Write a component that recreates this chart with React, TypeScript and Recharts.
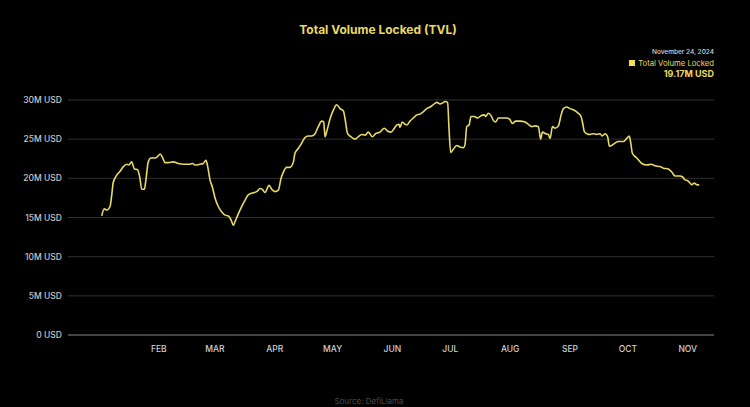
import React from 'react';
import { LineChart, Line, XAxis, YAxis, CartesianGrid } from 'recharts';

// day-of-year (2024) for each sample
const DAYS = [
  15.4, 16.7, 18.0, 19.7, 20.6, 21.4, 23.2, 24.9, 26.6, 28.3, 29.5, 30.9, 32.3, 34.0, 35.2, 36.1, 37.5, 38.2, 39.5, 40.9,
  43.0, 44.4, 45.7, 47.0, 48.2, 49.9, 52.5, 55.1, 57.7, 61.1, 62.5, 63.7, 66.3, 68.0, 69.4, 70.3, 71.5, 72.7, 74.1, 75.8,
  77.6, 79.3, 81.0, 82.4, 83.6, 84.5, 86.2, 87.9, 89.6, 91.3, 93.1, 94.5, 95.7, 97.4, 98.6, 100.0, 102.1, 103.5, 105.2, 106.9,
  108.3, 109.5, 111.2, 112.9, 114.7, 115.5, 117.2, 119.0, 120.7, 122.4, 124.2, 125.9, 127.6, 129.4, 130.4, 131.1, 132.0, 133.7, 135.4, 137.1,
  138.9, 140.6, 141.4, 142.8, 144.6, 146.6, 148.3, 150.1, 151.8, 153.5, 155.6, 157.3, 159.6, 161.8, 163.6, 165.3, 167.0, 168.2, 169.4, 169.9,
  171.1, 172.5, 173.4, 175.1, 176.8, 178.6, 180.3, 182.0, 183.8, 185.5, 187.2, 189.0, 190.7, 191.9, 193.3, 194.6, 195.3, 196.2, 197.5, 199.3,
  201.0, 202.7, 203.6, 204.5, 205.7, 206.7, 208.4, 210.2, 211.9, 213.6, 214.3, 215.7, 217.1, 218.3, 219.5, 220.9, 222.6, 225.2, 226.9, 228.1,
  229.9, 232.1, 234.7, 236.4, 238.2, 239.9, 241.6, 242.8, 243.7, 245.4, 246.8, 247.7, 248.9, 250.3, 252.0, 253.4, 254.6, 256.3, 258.0, 260.2,
  262.3, 263.7, 264.6, 265.4, 266.7, 268.4, 270.1, 271.8, 273.6, 274.7, 276.2, 277.5, 278.4, 279.6, 281.3, 283.0, 285.6, 287.4, 288.7, 289.6,
  290.3, 292.6, 295.2, 297.8, 300.0, 302.0, 304.6, 306.4, 308.9, 310.7, 312.4, 315.0, 316.2, 317.6, 319.0, 319.8, 321.1, 322.4, 323.6, 324.9,
];

// TVL in millions of USD
const TVL = [
  15.2, 16.1, 15.95, 16.4, 17.9, 19.5, 20.4, 20.9, 21.5, 21.8, 21.7, 22.1, 21.2, 21.1, 20.0, 18.6, 18.6, 19.6, 22.1, 22.6,
  22.6, 22.8, 23.1, 22.6, 22.0, 22.0, 22.1, 21.9, 21.8, 21.8, 21.9, 21.7, 21.8, 21.9, 22.3, 21.5, 19.8, 18.9, 17.5, 16.4,
  15.7, 15.3, 15.2, 14.7, 14.0, 14.5, 15.5, 16.4, 17.2, 17.9, 18.1, 18.2, 18.3, 18.7, 18.6, 18.2, 19.1, 18.6, 18.3, 18.5,
  20.0, 20.8, 21.4, 21.4, 22.1, 23.2, 23.8, 24.5, 25.2, 25.4, 25.4, 25.7, 26.6, 27.3, 27.2, 25.3, 26.0, 27.6, 28.7, 29.4,
  28.9, 28.6, 27.7, 25.7, 25.3, 25.0, 25.3, 25.6, 25.5, 25.9, 25.3, 25.7, 25.9, 26.4, 26.0, 25.9, 26.4, 26.8, 26.9, 26.5,
  27.2, 26.9, 26.8, 27.3, 27.7, 28.1, 28.2, 28.5, 28.9, 29.1, 29.4, 29.7, 29.5, 29.6, 29.8, 29.7, 26.4, 23.3, 23.7, 24.2,
  24.0, 23.9, 24.3, 26.6, 26.8, 27.9, 27.9, 27.7, 28.0, 28.1, 27.9, 28.3, 28.0, 27.4, 27.2, 27.7, 27.7, 27.7, 27.5, 27.0,
  27.3, 27.3, 27.2, 26.9, 26.6, 26.7, 26.6, 25.0, 25.9, 25.7, 25.6, 25.1, 26.6, 26.4, 26.7, 28.1, 28.9, 29.1, 28.9, 28.7,
  28.3, 27.9, 27.0, 26.0, 25.7, 25.6, 25.7, 25.6, 25.7, 25.4, 25.7, 25.3, 24.1, 24.2, 24.5, 24.7, 24.7, 25.1, 25.4, 24.3,
  23.2, 22.6, 21.9, 21.7, 21.8, 21.6, 21.5, 21.3, 21.2, 20.8, 20.3, 20.3, 20.2, 19.8, 19.7, 19.5, 19.2, 19.4, 19.2, 19.17,
];

const MONTH_TICKS = [45, 74, 105, 135, 166, 196, 227, 258, 288, 319];
const MONTH_LABELS = ['FEB', 'MAR', 'APR', 'MAY', 'JUN', 'JUL', 'AUG', 'SEP', 'OCT', 'NOV'];
const Y_TICKS = [0, 5, 10, 15, 20, 25, 30];

const data = DAYS.map((d, i) => ({ day: d, tvl: TVL[i] }));

const FONT = 'Inter, "Liberation Sans", Arial, sans-serif';
const YELLOW = '#e8da62';

export default function App() {
  return (
    <div style={{ position: 'relative', width: 750, height: 407, background: '#000', fontFamily: FONT, overflow: 'hidden' }}>
      <style>{'body{margin:0;background:#000}'}</style>

      <div style={{ position: 'absolute', top: 22, left: 3, width: 750, textAlign: 'center', color: YELLOW, fontSize: 12, fontWeight: 700 }}>
        Total Volume Locked (TVL)
      </div>

      {/* tooltip-like legend, top right */}
      <div style={{ position: 'absolute', top: 49, right: 36, textAlign: 'right', lineHeight: 1 }}>
        <div style={{ color: '#d8d8d8', fontSize: 6.5, fontWeight: 500 }}>November 24, 2024</div>
        <div style={{ color: YELLOW, fontSize: 7.7, marginTop: 4, display: 'flex', alignItems: 'center', justifyContent: 'flex-end' }}>
          <span style={{ display: 'inline-block', width: 6, height: 6, background: '#f2df4a', marginRight: 3 }} />
          Total Volume Locked
        </div>
        <div style={{ color: YELLOW, fontSize: 9, fontWeight: 700, marginTop: 2 }}>19.17M USD</div>
      </div>

      <LineChart width={750} height={407} data={data} margin={{ top: 100, right: 36, bottom: 42, left: 0 }}>
        <CartesianGrid vertical={false} stroke="#303030" strokeWidth={1} />
        <XAxis
          dataKey="day"
          type="number"
          domain={[-2.07, 332.6]}
          ticks={MONTH_TICKS}
          tickFormatter={(v: number) => MONTH_LABELS[MONTH_TICKS.indexOf(v)]}
          height={30}
          tickSize={0}
          tickMargin={11}
          axisLine={{ stroke: '#555', strokeWidth: 1.5 }}
          tick={{ fill: '#d0d0d0', fontSize: 8.5, fontWeight: 500, fontFamily: FONT }}
          allowDataOverflow
        />
        <YAxis
          type="number"
          domain={[0, 30]}
          ticks={Y_TICKS}
          width={68}
          tickSize={0}
          tickMargin={6}
          axisLine={false}
          tickFormatter={(v: number) => (v === 0 ? '0 USD' : `${v}M USD`)}
          tick={{ fill: '#c8c8c8', fontSize: 8.5, fontWeight: 500, fontFamily: FONT }}
        />
        <Line
          type="monotone"
          dataKey="tvl"
          stroke={YELLOW}
          strokeWidth={1.6}
          dot={false}
          isAnimationActive={false}
        />
      </LineChart>

      <div style={{ position: 'absolute', top: 396, left: 0, width: 738, textAlign: 'center', color: '#4a4a4a', fontSize: 8 }}>
        Source: DefiLlama
      </div>
    </div>
  );
}
